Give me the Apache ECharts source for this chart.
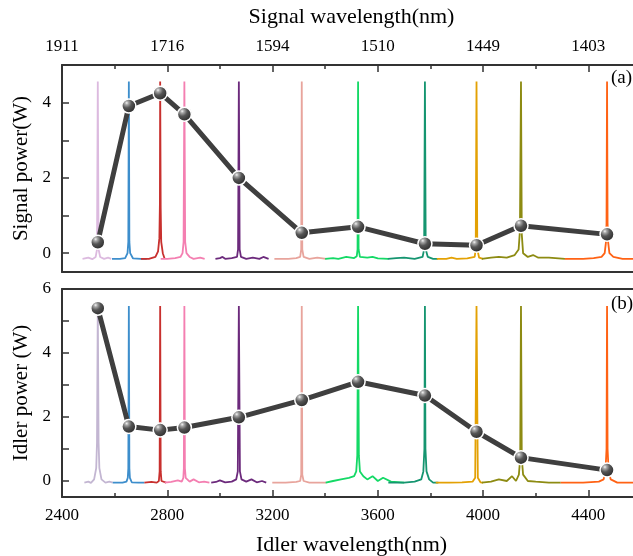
<!DOCTYPE html>
<html>
<head>
<meta charset="utf-8">
<script src="https://cdn.jsdelivr.net/npm/echarts@6/dist/echarts.min.js"></script>
<style>html,body{margin:0;padding:0;background:#fff}#c{width:633px;height:556px}</style>
</head>
<body>
<div id="c"></div>
<script>
// ---- Data ----
const idlerTicks = [2400, 2800, 3200, 3600, 4000, 4400];
const signalTickLabels = ['1911', '1716', '1594', '1510', '1449', '1403'];
const signalPowerTicks = [0, 2, 4];
const idlerPowerTicks = [0, 2, 4, 6];

// measured points: idler wavelength (nm)
const pointWavelengths = [2536, 2654, 2773, 2865, 3072, 3311, 3525, 3779, 3975, 4144, 4471];
const signalPower = [0.29, 3.91, 4.25, 3.69, 2.00, 0.54, 0.70, 0.25, 0.21, 0.73, 0.50];
const idlerPower  = [5.40, 1.70, 1.59, 1.67, 1.99, 2.53, 3.10, 2.67, 1.54, 0.73, 0.34];

const spectrumColors = ['#dcbadf', '#3d8ecc', '#c8302e', '#f47fb1', '#6c2a7c', '#e8a49c', '#14d966', '#159570', '#e3a104', '#8d8b12', '#ff6214'];
const idlerLavender = '#c3b6d2';

// signal spectra (top panel): [idler-axis wavelength, W]
const sigSpec0 = [[2478,-0.15],[2500,-0.12],[2515,-0.16],[2528,-0.10],[2533,0.10],[2536,4.56],[2539,0.10],[2545,-0.10],[2560,-0.15],[2575,-0.12],[2587,-0.15]];
const sigSpec1 = [[2590,-0.15],[2620,-0.15],[2640,-0.13],[2649,0.00],[2652,0.30],[2654,4.56],[2656,0.30],[2659,0.00],[2670,-0.14],[2700,-0.15],[2722,-0.15]];
const sigSpec2 = [[2700,-0.15],[2730,-0.15],[2755,-0.10],[2765,0.05],[2770,0.40],[2772,1.30],[2773,4.56],[2775,1.20],[2777,0.30],[2783,0.00],[2790,-0.15]];
const sigSpec3 = [[2775,-0.15],[2800,-0.15],[2830,-0.13],[2850,-0.10],[2858,0.00],[2862,0.30],[2865,4.56],[2868,0.30],[2873,0.00],[2885,-0.10],[2900,-0.15],[2925,-0.12],[2942,-0.15]];
const sigSpec4 = [[2983,-0.15],[3000,-0.13],[3010,-0.10],[3020,-0.15],[3045,-0.13],[3065,-0.10],[3069,0.10],[3072,4.56],[3075,0.10],[3080,-0.10],[3100,-0.15],[3125,-0.12],[3150,-0.15],[3165,-0.10],[3185,-0.15]];
const sigSpec5 = [[3207,-0.15],[3260,-0.15],[3290,-0.13],[3305,-0.10],[3309,0.10],[3311,4.56],[3313,0.10],[3318,-0.10],[3340,-0.15],[3370,-0.12],[3404,-0.15]];
const sigSpec6 = [[3400,-0.15],[3430,-0.13],[3450,-0.15],[3480,-0.10],[3510,-0.13],[3520,-0.08],[3523,0.10],[3525,4.56],[3527,0.10],[3532,-0.10],[3560,-0.12],[3580,-0.10],[3600,-0.14],[3640,-0.15]];
const sigSpec7 = [[3638,-0.15],[3670,-0.13],[3700,-0.12],[3740,-0.15],[3770,-0.10],[3776,0.10],[3779,4.56],[3782,0.10],[3790,-0.10],[3810,-0.15],[3828,-0.15]];
const sigSpec8 = [[3824,-0.15],[3860,-0.15],[3880,-0.12],[3900,-0.15],[3940,-0.14],[3968,-0.10],[3972,0.10],[3975,4.56],[3978,0.10],[3985,-0.12],[4000,-0.15]];
const sigSpec9 = [[3995,-0.15],[4030,-0.12],[4060,-0.10],[4090,-0.12],[4120,-0.05],[4135,0.10],[4140,0.60],[4144,4.56],[4147,0.50],[4152,0.00],[4170,-0.10],[4190,-0.05],[4210,-0.12],[4250,-0.12],[4311,-0.15]];
const sigSpec10 = [[4311,-0.15],[4380,-0.15],[4420,-0.13],[4450,-0.10],[4462,0.00],[4467,0.30],[4469,0.80],[4471,4.56],[4473,0.80],[4475,0.30],[4480,0.00],[4495,-0.10],[4530,-0.15],[4600,-0.15]];

// idler spectra (bottom panel)
const idlSpec0 = [[2485,-0.05],[2500,-0.02],[2510,-0.06],[2522,0.05],[2530,0.40],[2533,1.20],[2536,5.47],[2539,1.20],[2542,0.40],[2550,0.05],[2565,-0.05],[2580,-0.02],[2593,-0.05]];
const idlSpec1 = [[2593,-0.05],[2630,-0.05],[2645,-0.02],[2650,0.10],[2652,0.40],[2654,5.47],[2656,0.40],[2658,0.10],[2665,-0.04],[2690,-0.05],[2713,-0.05]];
const idlSpec2 = [[2713,-0.05],[2740,-0.03],[2760,-0.05],[2768,0.00],[2771,0.30],[2773,5.47],[2775,0.30],[2778,0.00],[2796,-0.05]];
const idlSpec3 = [[2790,-0.05],[2815,-0.03],[2840,0.02],[2855,-0.02],[2861,0.10],[2863,0.40],[2865,5.47],[2867,0.40],[2870,0.10],[2885,-0.02],[2900,0.05],[2920,-0.04],[2940,-0.02],[2960,-0.05]];
const idlSpec4 = [[2967,-0.05],[2985,-0.03],[3000,0.02],[3020,-0.04],[3045,-0.02],[3062,0.05],[3068,0.30],[3072,5.47],[3076,0.30],[3082,0.05],[3100,-0.02],[3120,0.05],[3140,-0.04],[3160,0.00],[3176,-0.05]];
const idlSpec5 = [[3199,-0.05],[3250,-0.05],[3290,-0.03],[3305,0.00],[3309,0.20],[3311,5.47],[3313,0.20],[3318,0.00],[3340,-0.05],[3404,-0.05]];
const idlSpec6 = [[3402,-0.05],[3430,0.00],[3460,0.05],[3490,0.10],[3510,0.15],[3518,0.30],[3522,0.80],[3525,5.47],[3528,0.80],[3532,0.30],[3545,0.15],[3560,0.05],[3580,0.15],[3600,0.00],[3620,0.10],[3650,-0.02],[3700,-0.05]];
const idlSpec7 = [[3640,-0.05],[3700,-0.05],[3740,-0.02],[3765,0.05],[3773,0.30],[3777,1.00],[3779,5.47],[3781,1.00],[3785,0.30],[3795,0.05],[3810,-0.05],[3830,-0.05]];
const idlSpec8 = [[3820,-0.05],[3870,-0.05],[3920,-0.04],[3960,-0.02],[3970,0.10],[3975,5.47],[3980,0.10],[3990,-0.04],[4000,-0.05]];
const idlSpec9 = [[3995,-0.05],[4030,-0.02],[4060,0.05],[4090,0.00],[4110,0.15],[4125,0.00],[4136,0.20],[4141,0.70],[4144,5.47],[4147,0.70],[4152,0.20],[4170,0.00],[4200,-0.02],[4250,-0.05],[4295,-0.05]];
const idlSpec10 = [[4295,-0.05],[4380,-0.05],[4440,-0.02],[4458,0.05],[4465,0.30],[4469,1.00],[4471,5.47],[4473,1.00],[4477,0.30],[4485,0.05],[4510,-0.05],[4600,-0.05]];

const sigSpectra = [sigSpec0,sigSpec1,sigSpec2,sigSpec3,sigSpec4,sigSpec5,sigSpec6,sigSpec7,sigSpec8,sigSpec9,sigSpec10];
const idlSpectra = [idlSpec0,idlSpec1,idlSpec2,idlSpec3,idlSpec4,idlSpec5,idlSpec6,idlSpec7,idlSpec8,idlSpec9,idlSpec10];

// ---- Chart ----
const FONT = 'Liberation Serif';
const axisColor = '#333';
const chart = echarts.init(document.getElementById('c'), null, {renderer: 'canvas'});

const sphere = {
  type: 'radial', x: 0.36, y: 0.3, r: 0.72,
  colorStops: [
    {offset: 0, color: '#f4f4f4'},
    {offset: 0.16, color: '#a8a8a8'},
    {offset: 0.45, color: '#555555'},
    {offset: 1, color: '#262626'}
  ]
};

function xBase(grid, pos, withTicks, withLabels, formatter, name) {
  return {
    type: 'value', gridIndex: grid, position: pos,
    min: idlerTicks[0], max: 4600, interval: 400,
    axisLine: {show: true, onZero: false, lineStyle: {color: axisColor, width: 2}},
    axisTick: {show: withTicks, inside: true, length: 7, lineStyle: {color: axisColor, width: 1.5}},
    minorTick: {show: withTicks, splitNumber: 2, length: 4, lineStyle: {color: axisColor, width: 1.5}},
    splitLine: {show: false},
    axisLabel: {show: withLabels, color: '#000', fontFamily: FONT, fontSize: 17, margin: 10, formatter: formatter, showMaxLabel: false},
    name: name || '', nameLocation: 'middle', nameGap: 37,
    nameTextStyle: {color: '#000', fontFamily: FONT, fontSize: 22}
  };
}

function yBase(grid, min, max, labelTicks, name) {
  return {
    type: 'value', gridIndex: grid, min: min, max: max, minInterval: 1, maxInterval: 1,
    axisLine: {show: true, onZero: false, lineStyle: {color: axisColor, width: 2}},
    axisTick: {show: true, inside: true, length: 7, lineStyle: {color: axisColor, width: 1.5}},
    splitLine: {show: false},
    axisLabel: {color: '#000', fontFamily: FONT, fontSize: 17, margin: 11,
      formatter: v => labelTicks.indexOf(v) >= 0 ? String(v) : ''},
    name: name, nameLocation: 'middle', nameGap: 29,
    nameTextStyle: {color: '#000', fontFamily: FONT, fontSize: 21}
  };
}

const series = [];
sigSpectra.forEach((d, i) => series.push({
  type: 'line', xAxisIndex: 0, yAxisIndex: 0, data: d, showSymbol: false, symbol: 'none',
  lineStyle: {color: spectrumColors[i], width: 1.8}, z: 2, silent: true
}));
idlSpectra.forEach((d, i) => series.push({
  type: 'line', xAxisIndex: 3, yAxisIndex: 1, data: d, showSymbol: false, symbol: 'none',
  lineStyle: {color: i === 0 ? idlerLavender : spectrumColors[i], width: 1.8}, z: 2, silent: true
}));
series.push({
  type: 'line', xAxisIndex: 0, yAxisIndex: 0,
  data: pointWavelengths.map((w, i) => [w, signalPower[i]]),
  symbol: 'circle', symbolSize: 14,
  itemStyle: {color: sphere, borderColor: '#fff', borderWidth: 1.5},
  lineStyle: {color: '#3f3f3f', width: 5}, z: 5
});
series.push({
  type: 'line', xAxisIndex: 3, yAxisIndex: 1,
  data: pointWavelengths.map((w, i) => [w, idlerPower[i]]),
  symbol: 'circle', symbolSize: 14,
  itemStyle: {color: sphere, borderColor: '#fff', borderWidth: 1.5},
  lineStyle: {color: '#3f3f3f', width: 5}, z: 5
});

chart.setOption({
  animation: false,
  backgroundColor: '#fff',
  grid: [
    {left: 62, top: 65, right: -8, height: 207, outerBoundsMode: 'none', containLabel: false},
    {left: 62, top: 289, right: -8, height: 208, outerBoundsMode: 'none', containLabel: false}
  ],
  xAxis: [
    xBase(0, 'bottom', false, false),
    xBase(0, 'top', true, true, v => signalTickLabels[idlerTicks.indexOf(v)] || '', 'Signal wavelength(nm)'),
    xBase(1, 'top', false, false),
    xBase(1, 'bottom', true, true, v => idlerTicks.indexOf(v) >= 0 ? String(v) : '', 'Idler wavelength(nm)')
  ],
  yAxis: [
    yBase(0, -0.5, 5, signalPowerTicks, 'Signal power(W)'),
    yBase(1, -0.5, 6, idlerPowerTicks, 'Idler power (W)')
  ],
  graphic: [
    {type: 'text', left: 611, top: 69, style: {text: '(a)', font: '19px "Liberation Serif"', fill: '#000'}},
    {type: 'text', left: 611, top: 295, style: {text: '(b)', font: '19px "Liberation Serif"', fill: '#000'}}
  ],
  series: series
});
</script>
</body>
</html>
